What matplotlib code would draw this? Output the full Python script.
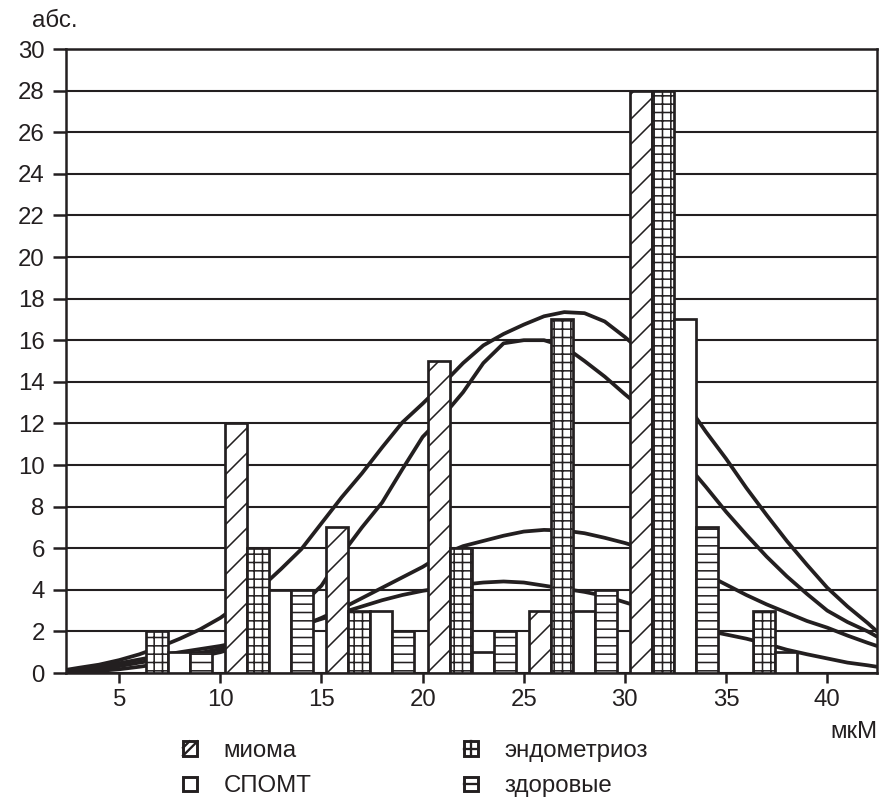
import matplotlib
matplotlib.use("Agg")
import matplotlib.pyplot as plt
from matplotlib.patches import Rectangle, Patch
from matplotlib.lines import Line2D
from matplotlib.legend_handler import HandlerBase
import numpy as np

plt.rcParams['font.family'] = ['Liberation Sans', 'DejaVu Sans']
plt.rcParams['hatch.linewidth'] = 0.75

DARK = '#231f20'

# ---- data -------------------------------------------------------------
bin_centers = [2.42, 7.42, 12.42, 17.42, 22.42, 27.42, 32.42, 37.42, 42.42]   # мкМ
series_names = ['миома', 'эндометриоз', 'СПОМТ', 'здоровые']
mioma = [0, 0, 12, 7, 15, 3, 28, 0, 0]
endometrioz = [0, 2, 6, 3, 6, 17, 28, 3, 0]
spomt = [0, 1, 4, 3, 1, 3, 17, 1, 0]
zdorovye = [0, 1, 4, 2, 2, 4, 7, 0, 0]

curve_x = [2.37, 3, 4, 5, 6, 7, 8, 9, 10, 11, 12, 13, 14, 15, 16, 17, 18, 19, 20, 21, 22,
           23, 24, 25, 26, 27, 28, 29, 30, 31, 32, 33, 34, 35, 36, 37, 38, 39, 40, 41, 42,
           42.46]
curve_a = [0.15, 0.25, 0.4, 0.62, 0.9, 1.25, 1.65, 2.1, 2.65, 3.35, 4.1, 5.0, 5.95, 7.2,
           8.45, 9.6, 10.85, 12.05, 12.95, 13.9, 14.9, 15.75, 16.3, 16.75, 17.15, 17.35,
           17.3, 16.9, 16.15, 15.3, 14.3, 13.0, 11.6, 10.3, 8.9, 7.6, 6.35, 5.2, 4.1, 3.2,
           2.4, 2.0]
curve_b = [0.05, 0.1, 0.2, 0.33, 0.5, 0.65, 0.8, 0.97, 1.15, 1.45, 1.9, 2.5, 3.25, 4.2,
           5.7, 7.0, 8.2, 9.8, 11.35, 12.35, 13.5, 14.9, 15.85, 16.0, 16.0, 15.7, 15.0,
           14.25, 13.4, 12.6, 11.45, 10.1, 8.95, 7.75, 6.65, 5.6, 4.65, 3.8, 3.0, 2.45,
           2.0, 1.75]
curve_c = [0.02, 0.05, 0.1, 0.18, 0.3, 0.44, 0.6, 0.8, 1.0, 1.3, 1.6, 1.9, 2.25, 2.65,
           3.1, 3.6, 4.1, 4.6, 5.1, 5.7, 6.1, 6.35, 6.6, 6.8, 6.88, 6.85, 6.72, 6.5, 6.25,
           5.95, 5.6, 5.2, 4.75, 4.25, 3.75, 3.3, 2.9, 2.5, 2.18, 1.8, 1.45, 1.3]
curve_d = [0.1, 0.17, 0.3, 0.47, 0.65, 0.83, 1.0, 1.15, 1.3, 1.5, 1.75, 2.0, 2.3, 2.6,
           2.9, 3.2, 3.5, 3.75, 3.95, 4.1, 4.25, 4.35, 4.4, 4.35, 4.2, 4.05, 3.9, 3.7, 3.4,
           3.1, 2.75, 2.4, 2.05, 1.85, 1.65, 1.4, 1.12, 0.9, 0.7, 0.5, 0.37, 0.3]

y_ticks = list(range(0, 31, 2))
x_ticks = [5, 10, 15, 20, 25, 30, 35, 40]

# ---- styles -----------------------------------------------------------
hatches = ['//', '+++', '', '---']
bin_width = 5.0
gap_frac = 0.6
bar_w = bin_width / (4 + gap_frac)
FS = 11.5

fig = plt.figure(figsize=(890 / 150, 801 / 150), dpi=150)
ax = fig.add_axes([66 / 890, 1 - 673 / 801, (877 - 66) / 890, (673 - 49) / 801])

ax.set_axisbelow(True)
ax.yaxis.grid(True, color=DARK, linewidth=1.0)
ax.xaxis.grid(False)

for cy in (curve_a, curve_b, curve_c, curve_d):
    ax.plot(curve_x, cy, color=DARK, linewidth=1.8, zorder=2,
            solid_joinstyle='round', solid_capstyle='round')

all_series = [mioma, endometrioz, spomt, zdorovye]
centers = np.asarray(bin_centers)
for k, vals in enumerate(all_series):
    xs = centers + (k - 1.5) * bar_w
    ax.bar(xs, vals, width=bar_w, align='center', facecolor='white',
           edgecolor=DARK, linewidth=1.3, hatch=hatches[k], zorder=3)

ax.set_xlim(2.37, 42.46)
ax.set_ylim(0, 30)
ax.set_yticks(y_ticks)
ax.set_xticks(x_ticks)
ax.tick_params(axis='y', direction='out', length=6.2, width=1.2, pad=4.0,
               labelsize=FS, colors=DARK)
ax.tick_params(axis='x', direction='out', length=4.8, width=1.2, pad=3.0,
               labelsize=FS, colors=DARK)
for s in ax.spines.values():
    s.set_color(DARK)
    s.set_linewidth(1.2)

fig.text(55 / 890, 1 - 27 / 801, 'абс.', ha='center', va='baseline', fontsize=FS, color=DARK)
fig.text(877 / 890, 1 - 738 / 801, 'мкМ', ha='right', va='baseline', fontsize=FS, color=DARK)


class BoxHandler(HandlerBase):
    def __init__(self, kind):
        super().__init__()
        self.kind = kind

    def create_artists(self, legend, orig_handle, xdescent, ydescent, width, height,
                       fontsize, trans):
        s = min(width, height)
        x0 = -xdescent
        y0 = -ydescent + (height - s) / 2
        arts = [Rectangle((x0, y0), s, s, facecolor='white', edgecolor=DARK,
                          linewidth=1.4, transform=trans)]
        lw = 1.1
        if self.kind == 'diag':
            arts.append(Line2D([x0, x0 + s], [y0, y0 + s], color=DARK, lw=lw, transform=trans))
            arts.append(Line2D([x0, x0 + 0.45 * s], [y0 + 0.55 * s, y0 + s], color=DARK, lw=lw,
                               transform=trans))
        elif self.kind == 'cross':
            arts.append(Line2D([x0 + s / 2, x0 + s / 2], [y0, y0 + s], color=DARK, lw=lw, transform=trans))
            arts.append(Line2D([x0, x0 + s], [y0 + s / 2, y0 + s / 2], color=DARK, lw=lw, transform=trans))
        elif self.kind == 'hline':
            arts.append(Line2D([x0, x0 + s], [y0 + s / 2, y0 + s / 2], color=DARK, lw=lw, transform=trans))
        return arts


kinds = ['diag', 'cross', 'plain', 'hline']
handles = [Patch(label=n) for n in series_names]
hmap = {h: BoxHandler(kd) for h, kd in zip(handles, kinds)}
order = [0, 2, 1, 3]
leg = fig.legend([handles[i] for i in order], [series_names[i] for i in order],
                 handler_map=hmap, ncol=2, loc='upper left',
                 bbox_to_anchor=(183 / 890, 1 - 740 / 801), frameon=False,
                 fontsize=FS, borderpad=0, borderaxespad=0,
                 handlelength=0.6, handleheight=0.6, handletextpad=1.1,
                 columnspacing=6.35, labelspacing=0.55, labelcolor=DARK)

fig.savefig('out.png', dpi=150)
